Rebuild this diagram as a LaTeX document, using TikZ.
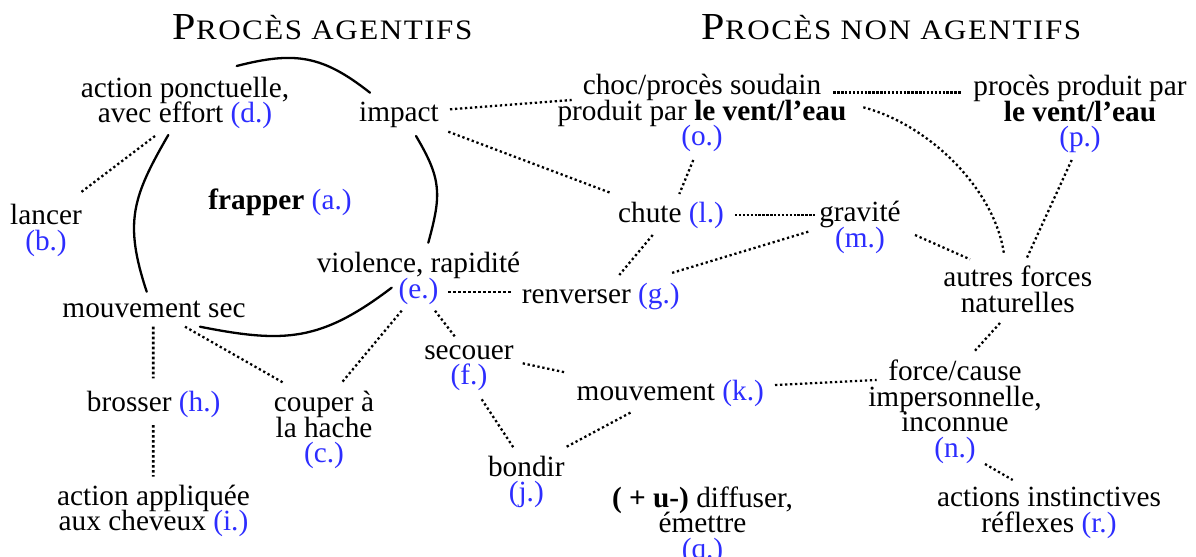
\documentclass[tikz,border=0pt]{standalone}
\usepackage{graphicx}
\usepackage{fontspec}
\setmainfont{Liberation Serif}
\newfontfamily\titlefont[LetterSpace=5]{Liberation Serif}
\definecolor{labblue}{RGB}{45,45,255}
\newcommand{\lab}[1]{\textcolor{labblue}{#1}}
\newcommand{\lblfont}{\fontsize{14.65}{12.75}\selectfont\lineskiplimit=-30pt\relax}
\newcommand{\ttlbig}{\fontsize{19.1}{20}\selectfont}
\newcommand{\ttlsmall}{\fontsize{14.1}{15}\selectfont}
\begin{document}
\begin{tikzpicture}[x=0.5pt,y=-0.5pt,
  lbl/.style={font=\lblfont, inner sep=0pt, outer sep=0pt, align=center, anchor=base},
  ttl/.style={inner sep=0pt, outer sep=0pt, anchor=base},
  dotline/.style={line width=1.15pt, dash pattern=on 1.15pt off 1.35pt},
  densedot/.style={line width=1.3pt, dash pattern=on 1.2pt off 0.75pt},
  vertdot/.style={line width=1.4pt, dash pattern=on 1.3pt off 1.2pt},
  arcline/.style={line width=1.15pt, line cap=round}]
\path[use as bounding box, fill=white] (0,0) rectangle (1196,557);

% titles
\node[ttl] (t1) at (322.5,39.3) {\scalebox{1.1}[1]{\titlefont{\ttlbig P}{\ttlsmall ROCÈS AGENTIFS}}};
\node[ttl] (t2) at (891.5,39.3) {\scalebox{1.1}[1]{\titlefont{\ttlbig P}{\ttlsmall ROCÈS NON AGENTIFS}}};

% nodes (placed at the baseline of their last line)
\node[lbl] (d) at (185,122.5) {action ponctuelle,\\avec effort \lab{(d.)}};
\node[lbl] (impact) at (399,121) {impact};
\node[lbl] (choc) at (702,145.5) {choc/procès soudain\\produit par \textbf{le vent/l’eau}\\\lab{(o.)}};
\node[lbl] (pnode) at (1080,146.5) {procès produit par\\\textbf{le vent/l’eau}\\\lab{(p.)}};
\node[lbl] (frap) at (280,209.5) {\textbf{frapper} \lab{(a.)}};
\node[lbl] (lancer) at (46,250) {lancer\\\lab{(b.)}};
\node[lbl] (chute) at (671,222.7) {chute \lab{(l.)}};
\node[lbl] (grav) at (860,247.2) {gravité\\\lab{(m.)}};
\node[lbl] (autres) at (1017.7,312.2) {autres forces\\naturelles};
\node[lbl] (viol) at (418.5,298.2) {violence, rapidité\\\lab{(e.)}};
\node[lbl] (renv) at (600.8,303.3) {renverser \lab{(g.)}};
\node[lbl] (msec) at (154,317.7) {mouvement sec};
\node[lbl] (secouer) at (469,384.5) {secouer\\\lab{(f.)}};
\node[lbl] (mvt) at (670.3,400) {mouvement \lab{(k.)}};
\node[lbl] (force) at (955,457) {force/cause\\impersonnelle,\\inconnue\\\lab{(n.)}};
\node[lbl] (brosser) at (153.7,411.7) {brosser \lab{(h.)}};
\node[lbl] (couper) at (324,462.7) {couper à\\la hache\\\lab{(c.)}};
\node[lbl] (bondir) at (526.3,501.5) {bondir\\\lab{(j.)}};
\node[lbl] (appl) at (153.5,530.5) {action appliquée\\aux cheveux \lab{(i.)}};
\node[lbl] (diff) at (702.5,558.3) {\textbf{( + u-)} diffuser,\\émettre\\\lab{(q.)}};
\node[lbl] (instinct) at (1049,532.2) {actions instinctives\\réflexes \lab{(r.)}};

% solid arcs of the circle
\draw[arcline] ([shift={(51.7,-56.5)}]d.base) .. controls +(58.5,-15.1) and +(-47.4,-37.3) .. ([shift={(-29,-28.3)}]impact.base);
\draw[arcline] ([shift={(17,15)}]impact.base) .. controls +(25.8,43.4) and +(13.2,-48.1) .. ([shift={(9.8,-55.5)}]viol.base);
\draw[arcline] ([shift={(-26.8,-10.5)}]viol.base) .. controls +(-70.5,53.4) and +(85.5,17) .. ([shift={(46,9)}]msec.base);
\draw[arcline] ([shift={(-16.7,12.5)}]d.base) .. controls +(-35.7,61.8) and +(-23,-69.5) .. ([shift={(-7.3,-26)}]msec.base);

% dotted connectors
\draw[dotline] ([shift={(-30,13.5)}]d.base) -- ([shift={(34,-57)}]lancer.base);
\draw[dotline] ([shift={(51,-11.7)}]impact.base) -- ([shift={(-130.3,-45.5)}]choc.base);
\draw[dotline] ([shift={(49.3,10.7)}]impact.base) -- ([shift={(-59.3,-29.4)}]chute.base);
\draw[dotline] ([shift={(-8.7,14.5)}]choc.base) -- ([shift={(8.3,-28.7)}]chute.base);
\draw[dotline] ([shift={(-18.3,12.3)}]chute.base) -- ([shift={(18.5,-28.3)}]renv.base);
\draw[dotline] ([shift={(-51.7,-15.5)}]grav.base) -- ([shift={(69.9,-30)}]renv.base);
\draw[dotline] ([shift={(29.8,-5.9)}]viol.base) -- ([shift={(-87.8,-11)}]renv.base);
\draw[dotline] ([shift={(31,9)}]msec.base) -- ([shift={(-40.7,-80)}]couper.base);
\draw[dotline] ([shift={(-16.8,12.5)}]viol.base) -- ([shift={(17.7,-80)}]couper.base);
\draw[dotline] ([shift={(16.5,12.5)}]viol.base) -- ([shift={(-14,-47.8)}]secouer.base);
\draw[dotline] ([shift={(53.7,-21.2)}]secouer.base) -- ([shift={(-103.6,-27.3)}]mvt.base);
\draw[dotline] ([shift={(12.7,14.8)}]secouer.base) -- ([shift={(-13,-54.2)}]bondir.base);
\draw[dotline] ([shift={(40.4,-54.8)}]bondir.base) -- ([shift={(-39.6,12.5)}]mvt.base);
\draw[dotline] ([shift={(104.7,-15)}]mvt.base) -- ([shift={(-78.3,-77)}]force.base);
\draw[dotline] ([shift={(55,-12.2)}]grav.base) -- ([shift={(-47.7,-52.9)}]autres.base);
\draw[dotline] ([shift={(161.3,-38.2)}]choc.base) .. controls +(66.7,17.7) and +(-9,-64) .. ([shift={(-13.7,-58.2)}]autres.base);
\draw[dotline] ([shift={(-8.3,13.5)}]pnode.base) -- ([shift={(9,-53.9)}]autres.base);
\draw[dotline] ([shift={(-17.7,10.8)}]autres.base) -- ([shift={(20,-106.3)}]force.base);
\draw[dotline] ([shift={(30,7)}]force.base) -- ([shift={(-36.3,-52.2)}]instinct.base);

% dense dotted connectors
\draw[densedot] ([shift={(131.3,-53.2)}]choc.base) -- ([shift={(-118.3,-54.2)}]pnode.base);
\draw[densedot] ([shift={(64,-7.7)}]chute.base) -- ([shift={(-44,-32.2)}]grav.base);

% vertical heavy dotted connectors
\draw[vertdot] ([shift={(-0.7,9)}]msec.base) -- ([shift={(-0.4,-33.4)}]brosser.base);
\draw[vertdot] ([shift={(-0.4,13.3)}]brosser.base) -- ([shift={(-0.2,-53.8)}]appl.base);
\end{tikzpicture}
\end{document}
